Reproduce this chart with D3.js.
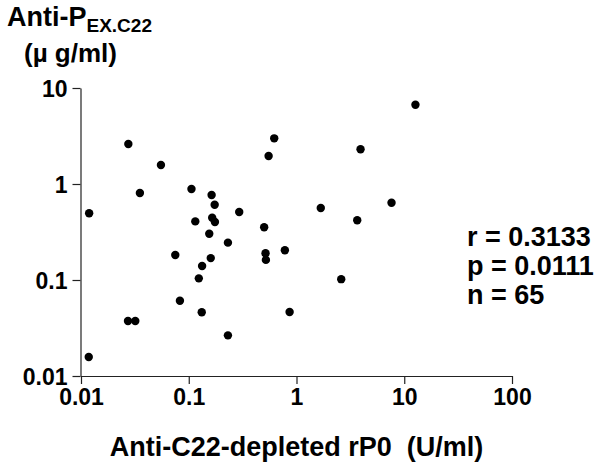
<!DOCTYPE html>
<html>
<head>
<meta charset="utf-8">
<script src="https://cdn.jsdelivr.net/npm/d3@7"></script>
<style>
  html, body { margin: 0; padding: 0; background: #fff; }
  svg text { font-family: "Liberation Sans", Arial, sans-serif; font-weight: bold; fill: #000; white-space: pre; }
</style>
</head>
<body>
<svg id="chart" width="600" height="467"></svg>
<script>
// Data
const xValues = [0.0275, 0.0552, 0.0352, 0.106, 0.163, 0.174, 0.0119, 0.294, 0.115, 0.165, 0.175,
  0.155, 0.231, 0.075, 0.160, 0.133, 0.124, 0.0828, 0.132, 0.0273, 0.0319, 0.231, 0.0118,
  12.7, 0.621, 0.551, 3.93, 1.68, 3.66, 7.62, 0.501, 0.516, 0.52, 0.78, 2.60, 0.863];
const yValues = [2.61, 1.58, 0.805, 0.887, 0.767, 0.608, 0.496, 0.511, 0.408, 0.445, 0.402,
  0.303, 0.245, 0.182, 0.169, 0.140, 0.104, 0.0608, 0.0461, 0.0374, 0.0374, 0.0265, 0.0158,
  6.70, 2.99, 1.96, 2.30, 0.562, 0.419, 0.638, 0.355, 0.190, 0.162, 0.204, 0.102, 0.0464];
const xTicks = [0.01, 0.1, 1, 10, 100];
const xTickLabels = ["0.01", "0.1", "1", "10", "100"];
const yTicks = [0.01, 0.1, 1, 10];
const yTickLabels = ["0.01", "0.1", "1", "10"];
const statLines = ["r = 0.3133", "p = 0.0111", "n = 65"];
const xTitle = "Anti-C22-depleted rP0  (U/ml)";
const yTitleMain = "Anti-P";
const yTitleSub = "EX.C22";
const yTitleUnit = "(\u00b5 g/ml)";

const svg = d3.select("#chart");
const x = d3.scaleLog().domain([0.01, 100]).range([81, 512]);
const y = d3.scaleLog().domain([0.01, 10]).range([376, 88]);

const xAxis = d3.axisBottom(x).tickValues(xTicks)
  .tickFormat((d, i) => xTickLabels[i]).tickSize(8).tickSizeOuter(0).tickPadding(5);
const yAxis = d3.axisLeft(y).tickValues(yTicks)
  .tickFormat((d, i) => yTickLabels[i]).tickSize(8).tickSizeOuter(0).tickPadding(5);

const gx = svg.append("g").attr("transform", "translate(0,376)").call(xAxis);
const gy = svg.append("g").attr("transform", "translate(80.5,0)").call(yAxis);
[gx, gy].forEach(g => {
  g.selectAll("path, line").attr("stroke", "#222").attr("stroke-width", 1.2);
  g.selectAll("text").style("font-size", "23px").style("font-family", '"Liberation Sans", Arial, sans-serif')
    .style("font-weight", "bold").attr("fill", "#000");
});
gy.selectAll("text").attr("dy", "0.36em");

svg.append("g").selectAll("circle")
  .data(xValues.map((v, i) => [v, yValues[i]]))
  .join("circle")
  .attr("cx", d => x(d[0]))
  .attr("cy", d => y(d[1]))
  .attr("r", 4.2)
  .attr("fill", "#000");

// Y title
const yt = svg.append("text").attr("x", 7).attr("y", 26).style("font-size", "27px");
yt.append("tspan").text(yTitleMain);
yt.append("tspan").attr("dy", 6).style("font-size", "19px").text(yTitleSub);
svg.append("text").attr("x", 24).attr("y", 62).style("font-size", "26px").text(yTitleUnit);

// X title
svg.append("text").attr("x", (81 + 512) / 2).attr("y", 456).attr("text-anchor", "middle")
  .style("font-size", "27px").text(xTitle);

// Stats
svg.append("g").selectAll("text").data(statLines).join("text")
  .attr("x", 467).attr("y", (d, i) => 246 + i * 29)
  .style("font-size", "27px").text(d => d);
</script>
</body>
</html>
